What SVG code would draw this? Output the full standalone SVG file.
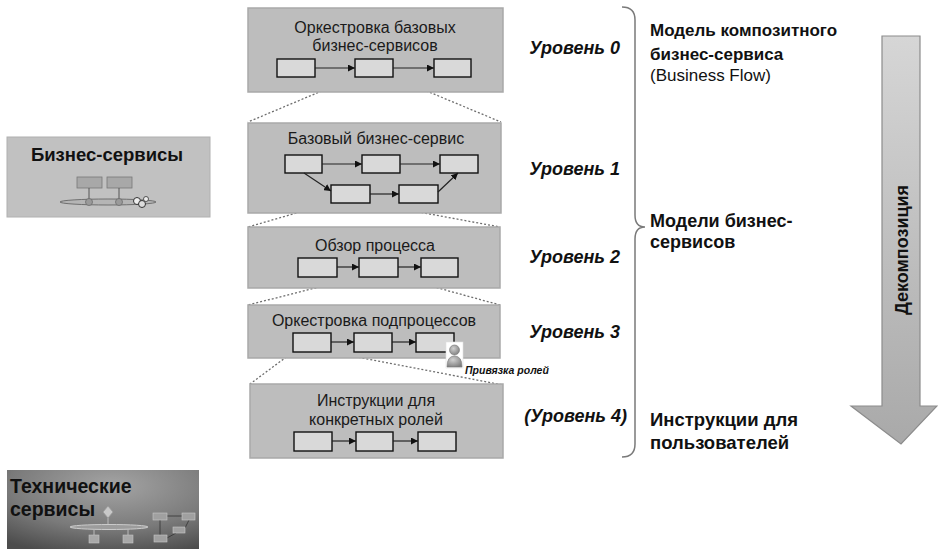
<svg xmlns="http://www.w3.org/2000/svg" width="938" height="549" viewBox="0 0 938 549">
  <defs>
    <style>
      .panel { fill: #bdbdbd; stroke: #a9a9a9; stroke-width: 1.5; }
      .step { fill: #d9d9d9; stroke: #111; stroke-width: 1.4; }
      .flow { stroke: #222; stroke-width: 1.2; fill: none; marker-end: url(#tip); }
      .zoom { stroke: #6e6e6e; stroke-width: 1.3; stroke-dasharray: 2 2; fill: none; }
      .title { font-family: "Liberation Sans", Arial, sans-serif; font-size: 16px; fill: #1a1a1a; text-anchor: middle; }
      .lvl { font-family: "Liberation Sans", Arial, sans-serif; font-size: 18px; font-weight: bold; font-style: italic; fill: #111; }
      .side { font-family: "Liberation Sans", Arial, sans-serif; font-size: 17px; font-weight: bold; fill: #111; }
      .tile { font-family: "Liberation Sans", Arial, sans-serif; font-size: 18.5px; font-weight: bold; fill: #111; }
      .sideplain { font-family: "Liberation Sans", Arial, sans-serif; font-size: 17px; fill: #111; }
    </style>
    <marker id="tip" viewBox="0 0 10 10" refX="10" refY="5" markerWidth="7" markerHeight="7" markerUnits="userSpaceOnUse" orient="auto">
      <path d="M0,0 L10,5 L0,10 z" fill="#111"/>
    </marker>
    <linearGradient id="shaftGrad" x1="0" y1="0" x2="0" y2="1">
      <stop offset="0" stop-color="#d6d6d6"/>
      <stop offset="1" stop-color="#a9a9a9"/>
    </linearGradient>
    <radialGradient id="techGrad" cx="0.55" cy="0.2" r="0.9">
      <stop offset="0" stop-color="#a4a4a4"/>
      <stop offset="0.6" stop-color="#7a7a7a"/>
      <stop offset="1" stop-color="#4c4c4c"/>
    </radialGradient>
    <radialGradient id="personGrad" cx="0.4" cy="0.35" r="0.7">
      <stop offset="0" stop-color="#d0d0d0"/>
      <stop offset="1" stop-color="#7e7e7e"/>
    </radialGradient>
  </defs>

  <rect width="938" height="549" fill="#ffffff"/>

  <!-- Business services tile -->
  <g id="business-services">
    <rect x="7" y="137" width="203" height="80" fill="#c1c1c1" stroke="#b0b0b0" stroke-width="1"/>
    <text class="tile" x="107" y="161" text-anchor="middle">Бизнес-сервисы</text>
    <rect x="77" y="177" width="25" height="11" fill="#a8a8a8" stroke="#777" stroke-width="0.8"/>
    <rect x="107" y="177" width="25" height="11" fill="#a8a8a8" stroke="#777" stroke-width="0.8"/>
    <line x1="89" y1="188" x2="89" y2="201" stroke="#555" stroke-width="1"/>
    <line x1="119" y1="188" x2="119" y2="201" stroke="#555" stroke-width="1"/>
    <ellipse cx="108" cy="202" rx="48" ry="3" fill="#b5b5b5" stroke="#666" stroke-width="0.9"/>
    <circle cx="89" cy="202" r="3.5" fill="#9a9a9a" stroke="#666" stroke-width="0.7"/>
    <circle cx="119" cy="202" r="3.5" fill="#9a9a9a" stroke="#666" stroke-width="0.7"/>
    <circle cx="137" cy="201" r="3.5" fill="#eee" stroke="#333" stroke-width="1"/>
    <circle cx="142" cy="204" r="3.5" fill="#ddd" stroke="#333" stroke-width="1"/>
    <circle cx="146" cy="199" r="2.5" fill="#eee" stroke="#333" stroke-width="0.8"/>
  </g>

  <!-- Technical services tile -->
  <g id="technical-services">
    <rect x="7" y="470" width="192" height="79" fill="url(#techGrad)"/>
    <text class="tile" x="10" y="493" style="font-size:19.5px">Технические</text>
    <text class="tile" x="10" y="516" style="font-size:19.5px">сервисы</text>
    <path d="M108,506 L113,512 L108,518 L103,512 z" fill="#c8c8c8" stroke="#999" stroke-width="0.8"/>
    <line x1="108" y1="518" x2="108" y2="525" stroke="#bbb" stroke-width="1"/>
    <ellipse cx="109" cy="527" rx="39" ry="2.5" fill="#9c9c9c" stroke="#ccc" stroke-width="1"/>
    <line x1="94" y1="529" x2="94" y2="535" stroke="#bbb" stroke-width="1"/>
    <line x1="128" y1="529" x2="128" y2="535" stroke="#bbb" stroke-width="1"/>
    <rect x="89" y="535" width="10" height="8" fill="#a8a8a8" stroke="#c4c4c4" stroke-width="0.6"/>
    <rect x="123" y="535" width="10" height="8" fill="#a8a8a8" stroke="#c4c4c4" stroke-width="0.6"/>
    <g stroke="#333" stroke-width="0.8">
      <line x1="167" y1="516" x2="182" y2="516"/>
      <line x1="160" y1="520" x2="160" y2="535"/>
      <line x1="167" y1="538" x2="176" y2="533"/>
      <line x1="185" y1="528" x2="189" y2="520"/>
    </g>
    <g fill="#a0a0a0" stroke="#c8c8c8" stroke-width="0.6">
      <rect x="153" y="513" width="14" height="7"/>
      <rect x="182" y="513" width="13" height="7"/>
      <rect x="173" y="527" width="12" height="6"/>
      <rect x="154" y="535" width="13" height="7"/>
    </g>
  </g>

  <!-- Connectors: zoom-in guides between levels -->
  <g id="connectors">
    <line class="zoom" x1="355" y1="77" x2="248" y2="122"/>
    <line class="zoom" x1="393" y1="77" x2="501" y2="122"/>
    <line class="zoom" x1="331" y1="203" x2="248" y2="227"/>
    <line class="zoom" x1="370" y1="203" x2="500" y2="227"/>
    <line class="zoom" x1="359" y1="277" x2="248" y2="305"/>
    <line class="zoom" x1="398" y1="277" x2="500" y2="305"/>
    <line class="zoom" x1="293" y1="352" x2="250" y2="384"/>
    <line class="zoom" x1="331" y1="352" x2="503" y2="385"/>
  </g>

  <!-- Level 0 -->
  <g id="level-0">
    <rect class="panel" x="248" y="8" width="255" height="84"/>
    <text class="title" x="375" y="33">Оркестровка базовых</text>
    <text class="title" x="375" y="51">бизнес-сервисов</text>
    <rect class="step" x="277" y="59" width="38" height="18"/>
    <rect class="step" x="355" y="59" width="38" height="18"/>
    <rect class="step" x="434" y="59" width="37" height="18"/>
    <line class="flow" x1="315" y1="68" x2="355" y2="68"/>
    <line class="flow" x1="393" y1="68" x2="434" y2="68"/>
  </g>

  <!-- Level 1 -->
  <g id="level-1">
    <rect class="panel" x="248" y="123" width="253" height="90"/>
    <text class="title" x="376" y="144">Базовый бизнес-сервис</text>
    <rect class="step" x="285" y="155" width="37" height="18"/>
    <rect class="step" x="362" y="155" width="38" height="18"/>
    <rect class="step" x="440" y="155" width="38" height="18"/>
    <rect class="step" x="331" y="185" width="39" height="18"/>
    <rect class="step" x="399" y="185" width="39" height="18"/>
    <line class="flow" x1="322" y1="164" x2="362" y2="164"/>
    <line class="flow" x1="400" y1="164" x2="440" y2="164"/>
    <line class="flow" x1="304" y1="173" x2="331" y2="191"/>
    <line class="flow" x1="370" y1="194" x2="399" y2="194"/>
    <line class="flow" x1="438" y1="192" x2="458" y2="173"/>
  </g>

  <!-- Level 2 -->
  <g id="level-2">
    <rect class="panel" x="248" y="227" width="252" height="61"/>
    <text class="title" x="375" y="251">Обзор процесса</text>
    <rect class="step" x="298" y="258" width="39" height="19"/>
    <rect class="step" x="359" y="258" width="39" height="19"/>
    <rect class="step" x="421" y="258" width="37" height="19"/>
    <line class="flow" x1="337" y1="267" x2="359" y2="267"/>
    <line class="flow" x1="398" y1="267" x2="421" y2="267"/>
  </g>

  <!-- Level 3 -->
  <g id="level-3">
    <rect class="panel" x="248" y="305" width="252" height="53"/>
    <text class="title" x="374" y="326">Оркестровка подпроцессов</text>
    <rect class="step" x="293" y="333" width="38" height="19"/>
    <rect class="step" x="354" y="333" width="38" height="19"/>
    <rect class="step" x="416" y="333" width="38" height="19"/>
    <line class="flow" x1="331" y1="342" x2="354" y2="342"/>
    <line class="flow" x1="392" y1="342" x2="416" y2="342"/>
  </g>

  <!-- Role binding badge -->
  <g id="role-binding">
    <rect x="446" y="342" width="17" height="26" fill="#ffffff" stroke="#e2e2e2" stroke-width="0.6"/>
    <path d="M447,367 Q447,356 454.5,356 Q462,356 462,367 z" fill="url(#personGrad)" stroke="#777" stroke-width="0.6"/>
    <circle cx="454.5" cy="350" r="5" fill="url(#personGrad)" stroke="#777" stroke-width="0.6"/>
    <text x="465" y="374" font-family="Liberation Sans, Arial, sans-serif" font-size="10.5" font-weight="bold" font-style="italic" fill="#111">Привязка ролей</text>
  </g>

  <!-- Level 4 -->
  <g id="level-4">
    <rect class="panel" x="250" y="384" width="253" height="74"/>
    <text class="title" x="376" y="406">Инструкции для</text>
    <text class="title" x="376" y="425">конкретных ролей</text>
    <rect class="step" x="294" y="432" width="38" height="19"/>
    <rect class="step" x="356" y="432" width="37" height="19"/>
    <rect class="step" x="418" y="432" width="38" height="19"/>
    <line class="flow" x1="332" y1="441" x2="356" y2="441"/>
    <line class="flow" x1="393" y1="441" x2="418" y2="441"/>
  </g>

  <!-- Level captions -->
  <g id="level-labels">
    <text class="lvl" x="620" y="54" text-anchor="end">Уровень 0</text>
    <text class="lvl" x="620" y="175" text-anchor="end">Уровень 1</text>
    <text class="lvl" x="620" y="263" text-anchor="end">Уровень 2</text>
    <text class="lvl" x="620" y="338" text-anchor="end">Уровень 3</text>
    <text class="lvl" x="627" y="422" text-anchor="end">(Уровень 4)</text>
  </g>

  <!-- Brace grouping the levels -->
  <g id="brace">
    <path d="M622,7 Q635,7 635,20 L635,215 Q635,227 645,227 Q635,227 635,239 L635,444 Q635,457 622,457" fill="none" stroke="#7a7a7a" stroke-width="1.5"/>
  </g>

  <!-- Model descriptions -->
  <g id="model-labels">
    <text class="side" x="650" y="36">Модель композитного</text>
    <text class="side" x="650" y="60">бизнес-сервиса</text>
    <text class="sideplain" x="650" y="81">(Business Flow)</text>
    <text class="side" x="650" y="227" style="font-size:18px">Модели бизнес-</text>
    <text class="side" x="650" y="248" style="font-size:18px">сервисов</text>
    <text class="side" x="650" y="426" style="font-size:18.5px">Инструкции для</text>
    <text class="side" x="650" y="449" style="font-size:18.5px">пользователей</text>
  </g>

  <!-- Decomposition arrow -->
  <g id="decomposition">
    <path d="M882,36 L920,36 L920,406 L937,406 L901,444 L851,406 L882,406 z" fill="url(#shaftGrad)" stroke="#8c8c8c" stroke-width="1.2" stroke-linejoin="miter"/>
    <text class="side" transform="translate(908,250) rotate(-90)" text-anchor="middle" style="font-size:18px">Декомпозиция</text>
  </g>
</svg>
